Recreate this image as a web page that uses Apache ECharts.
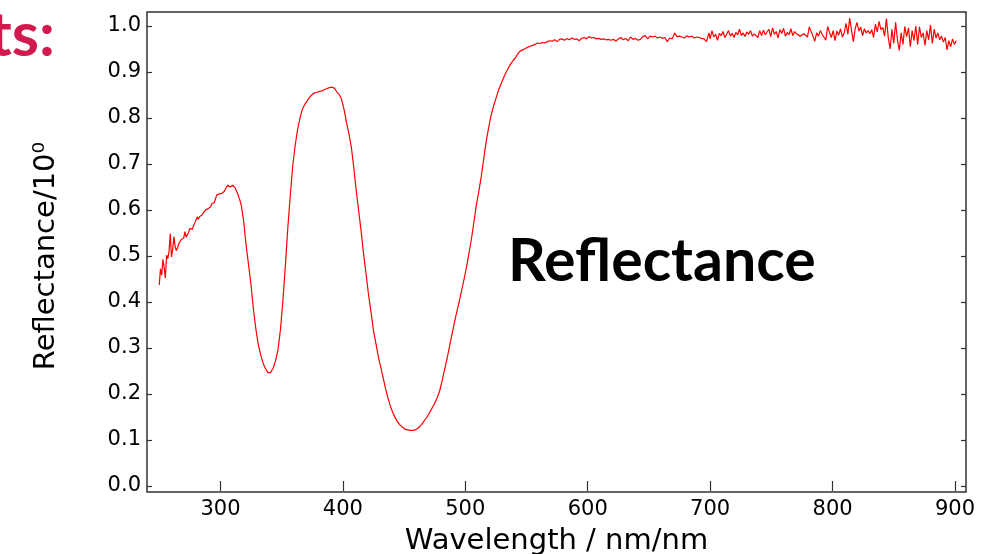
<!DOCTYPE html>
<html>
<head>
<meta charset="utf-8">
<script src="https://cdn.jsdelivr.net/npm/echarts@6/dist/echarts.min.js"></script>
<style>
html,body{margin:0;padding:0;background:#fff;}
#chart{width:981px;height:554px;}
</style>
</head>
<body>
<div id="chart"></div>
<script>
// Wavelength (nm)
const wavelengths = [
250,251,252,253,254,255,256,257,258,259,260,261,262,263,264,265,266,267,268,269,
270,271,272,273,274,275,276,277,278,279,280,281,282,283,284,285,286,287,288,289,
290,291,292,293,294,295,296,297,298,299,300,301,302,303,304,305,306,307,308,309,
310,311,312,313,314,315,316,317,319,321,323,325,327,329,331,333,335,337,339,340,
341,343,345,347,349,351,353,355,357,359,361,363,365,367,369,371,373,375,377,379,
381,383,385,387,389,391,392,393,395,397,399,401,403,405,407,409,411,413,415,417,
419,421,423,425,427,429,431,433,435,437,439,441,443,445,447,449,451,453,455,457,
459,461,463,465,467,469,471,473,475,477,479,481,483,485,487,489,491,493,495,497,
499,501,503,505,507,509,511,513,515,517,519,521,523,525,527,529,531,533,535,537,
539,541,543,545,547,549,551,553,555,557,559,561,563,565,567,569,571,573,575,577,
579,581,583,585,587,589,591,593,595,597,599,601,603,605,607,609,611,613,615,617,
619,621,623,625,627,629,631,633,635,637,639,641,643,645,647,649,651,653,655,657,
659,661,663,665,667,669,671,673,675,677,679,681,683,685,687,689,691,693,695,697,
699,700,701.5,703,704.5,706,707.5,709,710.5,712,713.5,715,716.5,718,719.5,721,722.5,724,725.5,727,
728.5,730,731.5,733,734.5,736,737.5,739,740.5,742,743.5,745,746.5,748,749.5,751,752.5,754,755.5,757,
758.5,760,761.5,763,764.5,766,767.5,769,770.5,772,773.5,775,776.5,778,779.5,781,782.5,784,785.5,787,
788.5,790,791.5,793,794.5,796,797.5,799,800.5,802,803.5,805,806.5,808,809.5,811,812.5,814,815.5,817,
818.5,820,821.5,823,824.5,826,827.5,829,830.5,832,833.5,835,836.5,838,839.5,841,842.5,844,845.5,847,
848.5,850,851.5,853,854.5,856,857.5,859,860.5,862,863.5,865,866.5,868,869.5,871,872.5,874,875.5,877,
878.5,880,881.5,883,884.5,886,887.5,889,890.5,892,893.5,895,896.5,898,899.5,901
];
// Reflectance values
const reflectance = [
0.437,0.472,0.458,0.493,0.475,0.452,0.502,0.494,0.510,0.549,0.498,0.515,0.542,0.520,0.512,0.518,0.527,0.531,0.536,0.533,
0.539,0.553,0.541,0.546,0.551,0.560,0.564,0.558,0.566,0.572,0.576,0.585,0.580,0.586,0.588,0.589,0.594,0.596,0.600,0.601,
0.603,0.605,0.607,0.614,0.612,0.616,0.625,0.633,0.636,0.635,0.634,0.636,0.635,0.640,0.645,0.649,0.654,0.652,0.650,0.651,
0.654,0.652,0.648,0.642,0.636,0.628,0.620,0.610,0.575,0.522,0.480,0.436,0.383,0.340,0.306,0.284,0.266,0.254,0.246,0.245,
0.247,0.256,0.272,0.296,0.340,0.402,0.478,0.560,0.630,0.695,0.740,0.775,0.800,0.820,0.830,0.838,0.846,0.851,0.855,0.856,
0.858,0.859,0.862,0.864,0.866,0.867,0.867,0.865,0.857,0.851,0.840,0.818,0.790,0.765,0.735,0.690,0.640,0.596,0.552,0.502,
0.460,0.415,0.378,0.338,0.310,0.280,0.258,0.234,0.210,0.190,0.172,0.158,0.147,0.138,0.132,0.127,0.123,0.122,0.121,0.121,
0.122,0.125,0.130,0.136,0.144,0.151,0.160,0.170,0.180,0.192,0.206,0.228,0.252,0.276,0.302,0.328,0.354,0.378,0.400,0.425,
0.450,0.476,0.506,0.537,0.573,0.610,0.640,0.672,0.710,0.748,0.778,0.805,0.825,0.842,0.860,0.873,0.886,0.898,0.908,0.917,
0.925,0.931,0.940,0.946,0.948,0.951,0.954,0.956,0.958,0.960,0.963,0.962,0.964,0.963,0.966,0.968,0.967,0.970,0.966,0.971,
0.972,0.969,0.973,0.970,0.974,0.971,0.972,0.968,0.973,0.975,0.972,0.977,0.974,0.975,0.972,0.973,0.971,0.972,0.970,0.971,
0.969,0.971,0.967,0.972,0.975,0.970,0.973,0.968,0.976,0.971,0.973,0.969,0.971,0.977,0.979,0.972,0.978,0.976,0.978,0.974,
0.976,0.973,0.975,0.966,0.974,0.972,0.985,0.977,0.978,0.976,0.974,0.979,0.976,0.978,0.974,0.976,0.975,0.973,0.972,0.966,
0.985,0.972,0.990,0.976,0.982,0.969,0.984,0.979,0.988,0.975,0.982,0.990,0.978,0.984,0.975,0.986,0.981,0.993,0.979,0.985,
0.977,0.987,0.982,0.990,0.978,0.983,0.986,0.975,0.990,0.979,0.991,0.981,0.984,0.993,0.977,0.996,0.982,0.988,0.974,0.992,
0.984,0.995,0.978,0.986,0.981,0.994,0.979,0.988,0.983,0.985,0.978,0.980,0.983,0.987,0.976,0.998,1.002,0.978,0.967,0.985,
0.978,0.990,0.982,0.986,0.969,0.999,0.986,0.975,0.990,0.968,0.989,0.980,0.994,0.976,0.985,1.006,0.982,1.017,0.990,0.966,
0.995,1.008,0.989,0.998,0.979,0.994,0.985,0.990,0.983,0.992,0.975,1.004,0.987,1.010,0.992,0.997,0.978,1.016,0.975,0.950,
0.993,0.962,1.008,0.970,0.947,0.985,0.960,0.999,0.977,0.996,0.955,0.990,0.968,1.000,0.960,0.998,0.975,0.985,0.958,0.990,
0.970,1.002,0.962,0.993,0.974,0.985,0.970,0.978,0.965,0.975,0.948,0.968,0.955,0.972,0.960,0.968
];
const xTicks = [300,400,500,600,700,800,900];
const yTickStep = 0.1;
const xName = 'Wavelength / nm/nm';
const yName = 'Reflectance/10\u2070';
const annotation = 'Reflectance';
const cornerText = 'ts:';

const seriesData = wavelengths.map((w, i) => [w, reflectance[i]]);

const chart = echarts.init(document.getElementById('chart'), null, {renderer: 'canvas'});
const tickFont = {fontFamily: 'DejaVu Sans', fontSize: 21, color: '#000'};
const axisColor = '#333';

chart.setOption({
  backgroundColor: '#fff',
  animation: false,
  grid: [
    {left: 147, right: 15, top: 26, bottom: 68, show: false, containLabel: false, outerBoundsMode: 'none'},
    {left: 147, right: 15, top: 12, bottom: 62, show: true, borderColor: axisColor, borderWidth: 1.5, backgroundColor: 'transparent', outerBoundsMode: 'none'}
  ],
  xAxis: [
    {
      type: 'value', gridIndex: 0, position: 'bottom', offset: 6,
      min: 240, max: 909, interval: 100,
      axisLine: {show: false},
      axisTick: {show: true, inside: true, length: 5, lineStyle: {color: axisColor, width: 1.2},
                 customValues: xTicks},
      axisLabel: Object.assign({margin: 7, customValues: xTicks, showMinLabel: true, showMaxLabel: true}, tickFont),
      splitLine: {show: false},
      name: xName, nameLocation: 'middle', nameGap: 35,
      nameTextStyle: {fontFamily: 'DejaVu Sans', fontSize: 29, color: '#000'}
    },
    {
      type: 'value', gridIndex: 0, position: 'top', offset: 14,
      min: 240, max: 909, interval: 100,
      axisLine: {show: false},
      axisTick: {show: true, inside: true, length: 5, lineStyle: {color: axisColor, width: 1.2},
                 customValues: xTicks},
      axisLabel: {show: false},
      splitLine: {show: false}
    }
  ],
  yAxis: [
    {
      type: 'value', gridIndex: 0, position: 'left',
      min: 0, max: 1, interval: yTickStep,
      axisLine: {show: false},
      axisTick: {show: true, inside: true, length: 5, lineStyle: {color: axisColor, width: 1.2}},
      axisLabel: Object.assign({margin: 6, formatter: v => v.toFixed(1)}, tickFont),
      splitLine: {show: false},
      name: yName, nameLocation: 'middle', nameGap: 86, nameRotate: 90,
      nameTextStyle: {fontFamily: 'DejaVu Sans', fontSize: 29, color: '#000'}
    },
    {
      type: 'value', gridIndex: 0, position: 'right',
      min: 0, max: 1, interval: yTickStep,
      axisLine: {show: false},
      axisTick: {show: true, inside: true, length: 5, lineStyle: {color: axisColor, width: 1.2}},
      axisLabel: {show: false},
      splitLine: {show: false}
    }
  ],
  series: [{
    type: 'line',
    xAxisIndex: 0, yAxisIndex: 0,
    data: seriesData,
    showSymbol: false,
    clip: false,
    lineStyle: {color: '#ff0000', width: 1.2},
    silent: true
  }],
  graphic: [
    {type: 'text', left: 508, top: 232, style: {text: annotation, font: 'bold 59px Lato', fill: '#000'}},
    {type: 'text', x: 55, y: 5, style: {text: cornerText, font: 'bold 62px Lato', fill: '#d21a4f', align: 'right', verticalAlign: 'top'}}
  ]
});
</script>
</body>
</html>
